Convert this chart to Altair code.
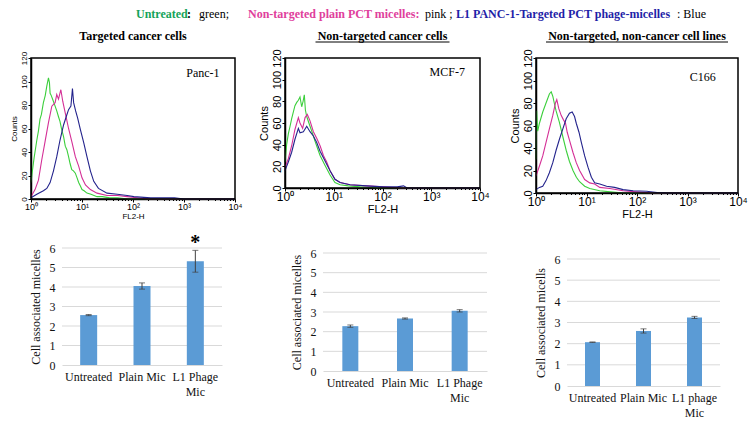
import altair as alt
import pandas as pd

# ---------------- header ----------------
HEADER_TEXT = ["Untreated", ":", "green;", "Non-targeted plain PCT micelles:", "pink ;",
               "L1 PANC-1-Targeted PCT phage-micelles", ": Blue"]
HEADER_COLOR = ["#14a35a", "#000000", "#000000", "#e0409c", "#000000", "#1f1fa8", "#000000"]
HEADER_WEIGHT = ["bold", "bold", "normal", "bold", "normal", "bold", "normal"]

# ---------------- flow cytometry histograms ----------------
SERIES = ["Untreated", "Plain PCT micelles", "L1 phage-micelles"]
LINE_COLORS = ["#3ccf3c", "#d42f96", "#23238c"]
X_TICKS = [1, 10, 100, 1000, 10000]
Y_TICKS = [0, 20, 40, 60, 80, 100, 120]
HIST_TITLES = ["Targeted cancer cells", "Non-targeted cancer cells", "Non-targeted, non-cancer cell lines"]
HIST_LABELS = ["Panc-1", "MCF-7", "C166"]

# Panc-1
P1_GREEN_X = [1.0, 1.05, 1.15, 1.3, 1.4, 1.5, 1.6, 1.75, 1.9, 2.04, 2.2, 2.3, 2.37, 2.5, 2.7, 2.97, 3.2,
              3.46, 3.7, 4.0, 4.35, 4.7, 5.05, 5.45, 5.85, 6.3, 6.8, 7.4, 8.0, 8.6, 9.3, 10, 11, 12.5,
              15, 19.7, 25, 35, 50, 80, 10000]
P1_GREEN_Y = [14, 22, 35, 50, 58, 68, 72, 82, 88, 96, 103, 99, 90, 88, 84, 79, 75, 70, 66, 59, 53, 45,
              42, 36, 30, 25, 24, 22, 18, 14, 11, 8, 7, 5, 4, 2, 2, 1, 1, 0, 0]
P1_PINK_X = [1.0, 1.2, 1.4, 1.62, 1.89, 2.2, 2.56, 2.97, 3.2, 3.46, 3.85, 4.2, 4.7, 5.45, 6.3, 7.4, 8.6,
             10, 11.7, 14.6, 19.7, 31, 50, 77, 120, 200, 10000]
P1_PINK_Y = [2, 8, 16, 33, 49, 65, 79, 82, 89, 85, 93, 83, 73, 60, 49, 36, 28, 18, 12, 8, 5, 3, 3, 2,
             1, 0, 0]
P1_BLUE_X = [1.0, 1.3, 1.75, 2.04, 2.37, 2.76, 3.2, 3.7, 4.35, 4.9, 5.45, 6.06, 6.5, 6.85, 7.5, 8.2,
             9.3, 10.8, 12.5, 14.6, 17, 21, 31, 49, 77, 104, 222, 650, 1000, 10000]
P1_BLUE_Y = [1, 4, 7, 9, 14, 24, 36, 50, 63, 70, 76, 79, 94, 82, 75, 69, 59, 48, 36, 24, 15, 9, 5, 4,
             3, 2, 1, 1, 0, 0]

# MCF-7
P2_GREEN_X = [1.0, 1.08, 1.17, 1.27, 1.37, 1.48, 1.6, 1.74, 1.88, 2.03, 2.2, 2.35, 2.49, 2.62, 2.79,
              3.26, 3.7, 4.14, 4.7, 5.24, 6.6, 8.4, 10.6, 13.5, 20, 35, 80, 10000]
P2_GREEN_Y = [24, 40, 50, 57, 64, 70, 76, 79, 81, 84, 75, 80, 86, 72, 66, 57, 50, 43, 36, 30, 21, 12,
              5, 3, 2, 1, 0, 0]
P2_PINK_X = [1.0, 1.17, 1.37, 1.6, 1.88, 2.03, 2.3, 2.58, 2.87, 3.26, 3.82, 4.47, 5.24, 6.14, 7.17,
             8.4, 10.6, 13.5, 21.6, 47, 104, 230, 10000]
P2_PINK_Y = [19, 27, 39, 54, 65, 60, 55, 65, 68, 62, 52, 46, 39, 30, 24, 16, 8, 5, 3, 2, 1, 0, 0]
P2_BLUE_X = [1.0, 1.17, 1.37, 1.6, 1.88, 2.03, 2.38, 2.79, 3.26, 3.82, 4.47, 5.24, 6.14, 7.17, 8.4,
             10.6, 13.5, 21.6, 47, 104, 200, 270, 320, 10000]
P2_BLUE_Y = [16, 24, 33, 45, 55, 51, 52, 57, 52, 48, 42, 34, 28, 22, 16, 8, 5, 3, 2, 1, 1, 2, 0, 0]

# C166
P3_GREEN_X = [1.0, 1.03, 1.08, 1.17, 1.36, 1.58, 1.84, 2.0, 2.15, 2.3, 2.5, 2.9, 3.4, 3.96, 4.6, 5.4,
              6.3, 7.3, 9.2, 11.6, 18.3, 30, 53, 10000]
P3_GREEN_Y = [30, 73, 55, 62, 72, 80, 88, 90, 86, 80, 73, 63, 50, 38, 28, 20, 14, 10, 6, 4, 2, 1, 0, 0]
P3_PINK_X = [1.0, 1.17, 1.36, 1.58, 1.84, 2.15, 2.43, 2.58, 2.83, 3.15, 3.5, 3.84, 4.15, 4.6, 5.4,
             6.27, 7.3, 9.2, 11.6, 14.5, 18.3, 29, 53, 98, 200, 10000]
P3_PINK_Y = [15, 24, 33, 45, 57, 69, 80, 83, 75, 69, 65, 62, 54, 47, 36, 27, 20, 12, 9, 8, 5, 4, 2, 1,
             0, 0]
P3_BLUE_X = [1.0, 1.17, 1.36, 1.58, 1.84, 2.15, 2.5, 2.92, 3.4, 3.96, 4.6, 5.2, 5.8, 6.27, 7.1, 7.9,
             9.2, 10.7, 12.5, 14.5, 18.3, 25, 36, 53, 84, 155, 250, 400, 10000]
P3_BLUE_Y = [3, 5, 6, 11, 18, 27, 38, 48, 57, 66, 71, 72, 68, 62, 54, 45, 33, 23, 14, 9, 8, 6, 5, 3, 2,
             1.5, 0.5, 0, 0]

# ---------------- bar charts ----------------
B1_CATS = ["Untreated", "Plain Mic", "L1 Phage|Mic"]
B1_VALS = [2.56, 4.05, 5.32]
B1_ERRS = [0.03, 0.16, 0.56]
B2_CATS = ["Untreated", "Plain Mic", "L1 Phage|Mic"]
B2_VALS = [2.28, 2.67, 3.06]
B2_ERRS = [0.06, 0.03, 0.06]
B3_CATS = ["Untreated", "Plain Mic", "L1 phage|Mic"]
B3_VALS = [2.07, 2.60, 3.24]
B3_ERRS = [0.01, 0.10, 0.05]
BAR_TICKS = [0, 1, 2, 3, 4, 5, 6]
BAR_TITLES = ["Cell associated micelles", "Cell associated micelles", "Cell associated micells"]

# ---------------- layout (page pixels) ----------------
W, H = 740, 410          # drawing area, placed at page (8, 8)
M = 8
HBOX = [(31, 235, 58, 199), (285, 480, 58, 188), (536, 738, 58, 193)]    # x0, x1, top, bottom
BBOX = [(62, 222, 248, 365), (323, 487, 253, 371), (567, 720, 259, 386)]  # x0, x1, y(6), y(0)
HEADER_X = [136, 187, 199, 248, 425, 456, 677]
UNDERLINE_HALF = [None, 67, 91]

SERIF = "Liberation Serif"
SANS = "Liberation Sans"
SUP_EXPR = ("datum.value == 1 ? '10\u2070' : datum.value == 10 ? '10\u00b9' : "
            "datum.value == 100 ? '10\u00b2' : datum.value == 1000 ? '10\u00b3' : "
            "datum.value == 10000 ? '10\u2074' : ''")
MAJOR_TEST = "abs(log(datum.value) / LN10 - round(log(datum.value) / LN10)) < 0.001"
MINOR_TICKS = [m * d for d in [1, 10, 100, 1000] for m in range(2, 10)]

ONE = pd.DataFrame({"a": [0]})


def hist_panel(i, xs_list, ys_list, label_pos, fs, lfs):
    x0, x1, top, bot = [v - M for v in HBOX[i]]
    tick_size = {"condition": {"test": MAJOR_TEST, "value": 3}, "value": 1.5}
    x_axis = alt.Axis(orient="bottom", offset=bot - H, values=X_TICKS + MINOR_TICKS,
                      labelExpr=SUP_EXPR, title="FL2-H", grid=False, labelFlush=False,
                      labelOverlap=False, tickSize=tick_size, tickColor="black",
                      domainColor="black", domainWidth=1.5, labelColor="black", titleColor="black",
                      labelFont=SANS, titleFont=SANS, labelFontSize=lfs, titleFontSize=fs,
                      titleFontWeight="normal", labelPadding=0, titlePadding=1)
    y_axis = alt.Axis(orient="left", offset=-x0, values=Y_TICKS, title="Counts", grid=False,
                      labelAngle=270, labelAlign="center", labelBaseline="alphabetic",
                      labelOverlap=False, labelFlush=False, tickSize=3, tickColor="black",
                      domainColor="black", domainWidth=1.5, labelColor="black", titleColor="black",
                      labelFont=SANS, titleFont=SANS, labelFontSize=fs, titleFontSize=fs,
                      titleFontWeight="normal", labelPadding=2, titlePadding=2)
    xs = alt.Scale(type="log", domain=[1, 10000], nice=False, range=[x0, x1])
    ys = alt.Scale(domain=[0, 120], nice=False, range=[bot, top])
    layers = []
    for s, c, xv, yv in zip(SERIES, LINE_COLORS, xs_list, ys_list):
        df = pd.DataFrame({"FL2-H": xv, "Counts": yv, "series": s})
        layers.append(
            alt.Chart(df).mark_line(color=c, strokeWidth=1.1).encode(
                x=alt.X("FL2-H:Q", scale=xs, axis=x_axis),
                y=alt.Y("Counts:Q", scale=ys, axis=y_axis),
            )
        )
    lab = pd.DataFrame({"FL2-H": [label_pos[0]], "Counts": [label_pos[1]], "t": [HIST_LABELS[i]]})
    layers.append(
        alt.Chart(lab).mark_text(font=SERIF, fontSize=12, color="black").encode(
            x=alt.X("FL2-H:Q", scale=xs, axis=x_axis),
            y=alt.Y("Counts:Q", scale=ys, axis=y_axis),
            text="t:N",
        )
    )
    # frame
    layers.append(
        alt.Chart(ONE).mark_rect(fillOpacity=0, stroke="black", strokeWidth=1.5).encode(
            x=alt.value(x0), x2=alt.value(x1), y=alt.value(top), y2=alt.value(bot))
    )
    # subtitle
    cx = (x0 + x1) / 2
    layers.append(
        alt.Chart(ONE).mark_text(text=HIST_TITLES[i], font=SERIF, fontSize=12, fontWeight="bold",
                                 color="black", align="center", baseline="alphabetic").encode(
            x=alt.value(cx), y=alt.value(top - 18))
    )
    if UNDERLINE_HALF[i]:
        layers.append(
            alt.Chart(ONE).mark_rule(color="black", strokeWidth=1).encode(
                x=alt.value(cx - UNDERLINE_HALF[i]), x2=alt.value(cx + UNDERLINE_HALF[i]),
                y=alt.value(top - 16))
        )
    return alt.layer(*layers)


def bar_panel(i, cats, vals, errs, barsize, star=False):
    x0, x1, y6, y0 = [v - M for v in BBOX[i]]
    df = pd.DataFrame({
        "cat": cats, "val": vals,
        "lo": [v - e for v, e in zip(vals, errs)],
        "hi": [v + e for v, e in zip(vals, errs)],
    })
    xax = alt.Axis(orient="bottom", offset=y0 - H, title=None, labelAngle=0,
                   labelExpr="split(datum.label, '|')", ticks=False, domainColor="#d9d9d9",
                   labelFont=SERIF, labelFontSize=12, labelColor="#111111", labelPadding=6,
                   labelLineHeight=15, labelBaseline="top")
    x = alt.X("cat:N", sort=cats, axis=xax,
              scale=alt.Scale(paddingInner=0, paddingOuter=0, range=[x0, x1]))
    ysc = alt.Scale(domain=[0, 6], nice=False, zero=True, range=[y0, y6])
    yax = alt.Axis(orient="left", offset=-x0, values=BAR_TICKS, title=BAR_TITLES[i], grid=False,
                   domain=False, ticks=False, labelFont=SERIF, labelFontSize=12,
                   labelColor="#111111", labelPadding=7, titleFont=SERIF, titleFontSize=12,
                   titleFontWeight="normal", titleColor="#111111", titlePadding=7)
    grid_df = pd.DataFrame({"g": BAR_TICKS[1:]})
    grid = alt.Chart(grid_df).mark_rule(color="#d9d9d9", strokeWidth=1).encode(
        x=alt.value(x0), x2=alt.value(x1), y=alt.Y("g:Q", scale=ysc, axis=yax))
    base = alt.Chart(df)
    bars = base.mark_bar(size=barsize, color="#5b9bd5").encode(
        x=x, y=alt.Y("val:Q", scale=ysc, axis=yax))
    rule = base.mark_rule(color="#404040", strokeWidth=1).encode(
        x=x, y=alt.Y("lo:Q", scale=ysc, axis=yax), y2="hi:Q")
    cap_lo = base.mark_tick(color="#404040", size=6, thickness=1).encode(
        x=x, y=alt.Y("lo:Q", scale=ysc, axis=yax))
    cap_hi = base.mark_tick(color="#404040", size=6, thickness=1).encode(
        x=x, y=alt.Y("hi:Q", scale=ysc, axis=yax))
    layers = [grid, bars, rule, cap_lo, cap_hi]
    if star:
        sdf = df.iloc[[2]].assign(sy=lambda d: d["hi"] + 0.4)
        layers.append(
            alt.Chart(sdf).mark_text(text="*", font=SERIF, fontSize=20, fontWeight="bold",
                                     color="black", baseline="middle").encode(
                x=x, y=alt.Y("sy:Q", scale=ysc, axis=yax))
        )
    return alt.layer(*layers)


header_layers = []
for t, c, w, xp in zip(HEADER_TEXT, HEADER_COLOR, HEADER_WEIGHT, HEADER_X):
    header_layers.append(
        alt.Chart(ONE).mark_text(text=t, color=c, fontWeight=w, font=SERIF, fontSize=12,
                                 align="left", baseline="middle").encode(
            x=alt.value(xp - M), y=alt.value(14 - M))
    )

h1 = hist_panel(0, [P1_GREEN_X, P1_PINK_X, P1_BLUE_X], [P1_GREEN_Y, P1_PINK_Y, P1_BLUE_Y],
                (2350, 107), 8, 9)
h2 = hist_panel(1, [P2_GREEN_X, P2_PINK_X, P2_BLUE_X], [P2_GREEN_Y, P2_PINK_Y, P2_BLUE_Y],
                (2130, 107), 11, 12)
h3 = hist_panel(2, [P3_GREEN_X, P3_PINK_X, P3_BLUE_X], [P3_GREEN_Y, P3_PINK_Y, P3_BLUE_Y],
                (2000, 103), 11, 12)
b1 = bar_panel(0, B1_CATS, B1_VALS, B1_ERRS, 17, star=True)
b2 = bar_panel(1, B2_CATS, B2_VALS, B2_ERRS, 16)
b3 = bar_panel(2, B3_CATS, B3_VALS, B3_ERRS, 15)

chart = (
    alt.layer(*header_layers, h1, h2, h3, b1, b2, b3)
    .resolve_scale(x="independent", y="independent")
    .properties(width=W, height=H, padding=0, autosize=alt.AutoSizeParams(type="none"))
    .configure_view(stroke="transparent")
)

chart.save("out.html", embed_options={"renderer": "svg", "actions": False})
